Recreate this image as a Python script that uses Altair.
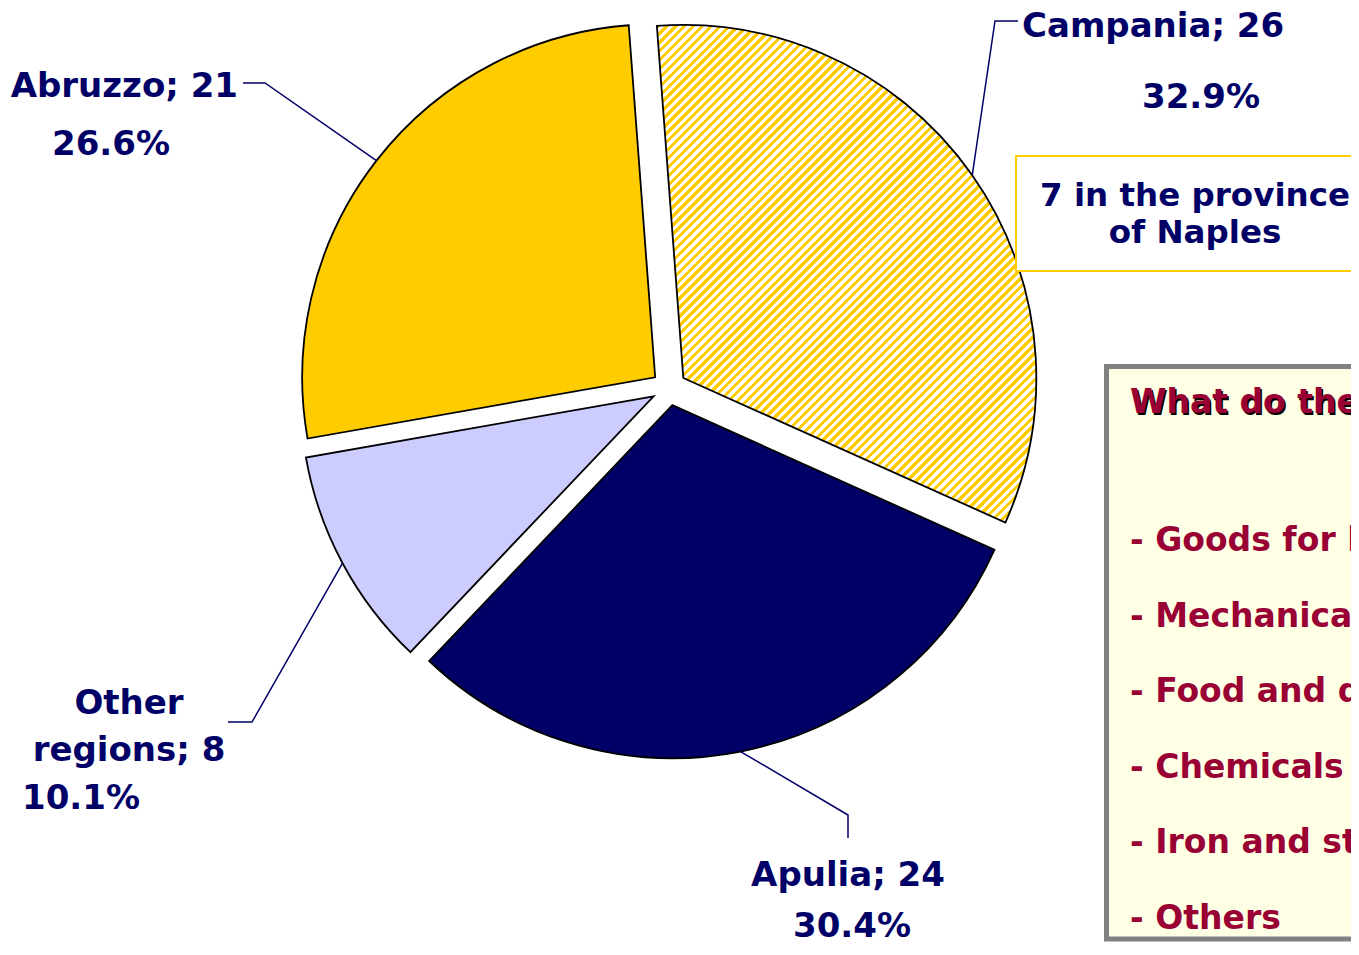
import math
import altair as alt
import pandas as pd

# ---------------- data ----------------
regions = ["Campania", "Apulia", "Other regions", "Abruzzo"]
counts = [26, 24, 8, 21]
slice_colors = ["#FFCC00", "#000066", "#CCCCFF", "#FFCC00"]
naples_note = ["7 in the province", "of Naples"]
box_title = "What do they produce?"
box_items = ["- Goods for home and person", "- Mechanical engineering", "- Food and drinks",
             "- Chemicals", "- Iron and steel", "- Others"]

total = sum(counts)
pcts = [f"{c / total * 100:.1f}%" for c in counts]

# ---------------- geometry / style ----------------
M = 8                       # page margin
W_CH, H_CH = 1343, 934
CX, CY = 669 - M, 388 - M   # pie centre
R = 353
EXPLODE = 17.5
ROT = math.radians(-4.3)
NAVY = "#000066"
RED = "#990033"
FONT = "DejaVu Sans"

# hatch gradient for the first slice (Campania): 45-degree stripes
a0 = ROT
a1 = ROT + counts[0] / total * 2 * math.pi
bw = R * (1 - math.sin(a0))
bh = R * (1 - math.cos(a1))
k = bh / bw             # gradient vector (1, k) in bounding-box units -> 45 deg stripes
period = 6.3            # px, perpendicular to the stripes
yellow_frac = 0.5
dt = period * math.sqrt(2) / (bw * (1 + k * k))
stops = []
n = int(1 / dt) + 2
for i in range(n):
    o0 = i * dt
    o1 = (i + yellow_frac) * dt
    o2 = (i + 1) * dt
    if o0 > 1:
        break
    stops.append({"offset": round(min(o0, 1), 5), "color": "#FFCC00"})
    stops.append({"offset": round(min(o1, 1), 5), "color": "#FFCC00"})
    stops.append({"offset": round(min(o1, 1), 5), "color": "#FFFFFF"})
    stops.append({"offset": round(min(o2, 1), 5), "color": "#FFFFFF"})
hatch = {"gradient": "linear", "x1": 0, "y1": 0, "x2": 1, "y2": round(k, 5), "stops": stops}

# ---------------- pie ----------------
pie_df = pd.DataFrame({"region": regions, "count": counts, "order": list(range(len(regions)))})

base = (
    alt.Chart(pie_df)
    .transform_stack(stack="count", groupby=[], as_=["s0", "s1"],
                     sort=[alt.SortField("order", order="ascending")])
    .transform_calculate(mid=f"{ROT} + ((datum.s0 + datum.s1) / 2) / {total} * 2 * PI")
    .transform_calculate(cx=f"{CX} + {EXPLODE} * sin(datum.mid)")
    .transform_calculate(cy=f"{CY} - {EXPLODE} * cos(datum.mid)")
)
theta_scale = alt.Scale(domain=[0, total], range=[ROT, ROT + 2 * math.pi])
enc = dict(
    theta=alt.Theta("s0:Q", scale=theta_scale, stack=None),
    theta2="s1:Q",
    x=alt.X("cx:Q", scale=None),
    y=alt.Y("cy:Q", scale=None),
)
pie_solid = (
    base.transform_filter(f"datum.region != '{regions[0]}'")
    .mark_arc(radius=R, stroke="black", strokeWidth=1.8)
    .encode(color=alt.Color("region:N", scale=alt.Scale(domain=regions, range=slice_colors), legend=None),
            **enc)
)
pie_hatch = (
    base.transform_filter(f"datum.region == '{regions[0]}'")
    .mark_arc(radius=R, stroke="black", strokeWidth=1.8, fill=hatch)
    .encode(**enc)
)

# ---------------- leader lines ----------------
leader_layout = {  # elbow and end points (page px)
    "Campania": [(995, 21), (1018, 21)],
    "Apulia": [(848, 815), (848, 838)],
    "Other regions": [(252, 722), (228, 722)],
    "Abruzzo": [(265, 83), (243, 83)],
}
rows = []
cum = 0
for r_name, c in zip(regions, counts):
    mid = ROT + (cum + c / 2) / total * 2 * math.pi
    cum += c
    sx = CX + (EXPLODE + R) * math.sin(mid)
    sy = CY - (EXPLODE + R) * math.cos(mid)
    rows.append({"id": r_name, "i": 0, "x": sx, "y": sy})
    for j, (px, py) in enumerate(leader_layout[r_name]):
        rows.append({"id": r_name, "i": j + 1, "x": px - M, "y": py - M})
leader_df = pd.DataFrame(rows)
leaders = alt.Chart(leader_df).mark_line(color=NAVY, strokeWidth=1.5).encode(
    x=alt.X("x:Q", scale=None), y=alt.Y("y:Q", scale=None), detail="id:N", order="i:Q")

# ---------------- boxes ----------------
box_df = pd.DataFrame({
    "x": [1016 - M, 1106.5 - M], "x2": [1600, 1600],
    "y": [156 - M, 366.5 - M], "y2": [271 - M, 939 - M],
})
box_note = alt.Chart(box_df.iloc[[0]]).mark_rect(fill="#FFFFFF", stroke="#FFCC00", strokeWidth=2).encode(
    x=alt.X("x:Q", scale=None), x2="x2:Q", y=alt.Y("y:Q", scale=None), y2="y2:Q")
box_list = alt.Chart(box_df.iloc[[1]]).mark_rect(fill="#FFFFE6", stroke="#808080", strokeWidth=5).encode(
    x=alt.X("x:Q", scale=None), x2="x2:Q", y=alt.Y("y:Q", scale=None), y2="y2:Q")

# ---------------- labels ----------------
name_lines = [f"{r}; {c}" for r, c in zip(regions, counts)]
lab = [
    (name_lines[0], 1022, 37, "left"),
    (pcts[0], 1201, 108, "center"),
    (name_lines[3], 238, 97, "right"),
    (pcts[3], 111, 155, "center"),
    (name_lines[2].split(" ", 1)[0], 129, 714, "center"),
    (name_lines[2].split(" ", 1)[1], 129, 761, "center"),
    (pcts[2], 22, 809, "left"),
    (name_lines[1], 848, 886, "center"),
    (pcts[1], 852, 937, "center"),
]
lab_df = pd.DataFrame(lab, columns=["text", "x", "y", "align"])
lab_df["x"] = lab_df["x"] - M
lab_df["y"] = lab_df["y"] - M

note_df = pd.DataFrame({"text": naples_note, "x": [1195 - M] * 2, "y": [206 - M, 243 - M]})


def text_layer(df, align, color, size, dx=0, dy=0):
    return alt.Chart(df).mark_text(
        align=align, baseline="alphabetic", font=FONT, fontWeight="bold",
        fontSize=size, color=color, dx=dx, dy=dy
    ).encode(x=alt.X("x:Q", scale=None), y=alt.Y("y:Q", scale=None), text="text:N")


label_layers = [text_layer(lab_df[lab_df["align"] == a], a, NAVY, 34) for a in ["left", "center", "right"]]
note_text = text_layer(note_df, "center", NAVY, 32.5)

list_df = pd.DataFrame({
    "text": [box_title] + box_items,
    "x": [1130 - M] * (1 + len(box_items)),
    "y": [413 - M] + [551 - M + 75.5 * i for i in range(len(box_items))],
})
title_shadow = text_layer(list_df.iloc[[0]], "left", "#000000", 33, dx=1.5, dy=1.5)
title_text = text_layer(list_df.iloc[[0]], "left", RED, 33)
items_text = text_layer(list_df.iloc[1:], "left", RED, 33)

chart = alt.layer(
    pie_solid, pie_hatch, leaders, box_note, box_list,
    *label_layers, note_text, title_shadow, title_text, items_text
).properties(
    width=W_CH, height=H_CH, padding=0, autosize=alt.AutoSizeParams(type="none")
).configure_view(stroke=None)

chart.save("out.html", embed_options={"renderer": "svg", "actions": False})
